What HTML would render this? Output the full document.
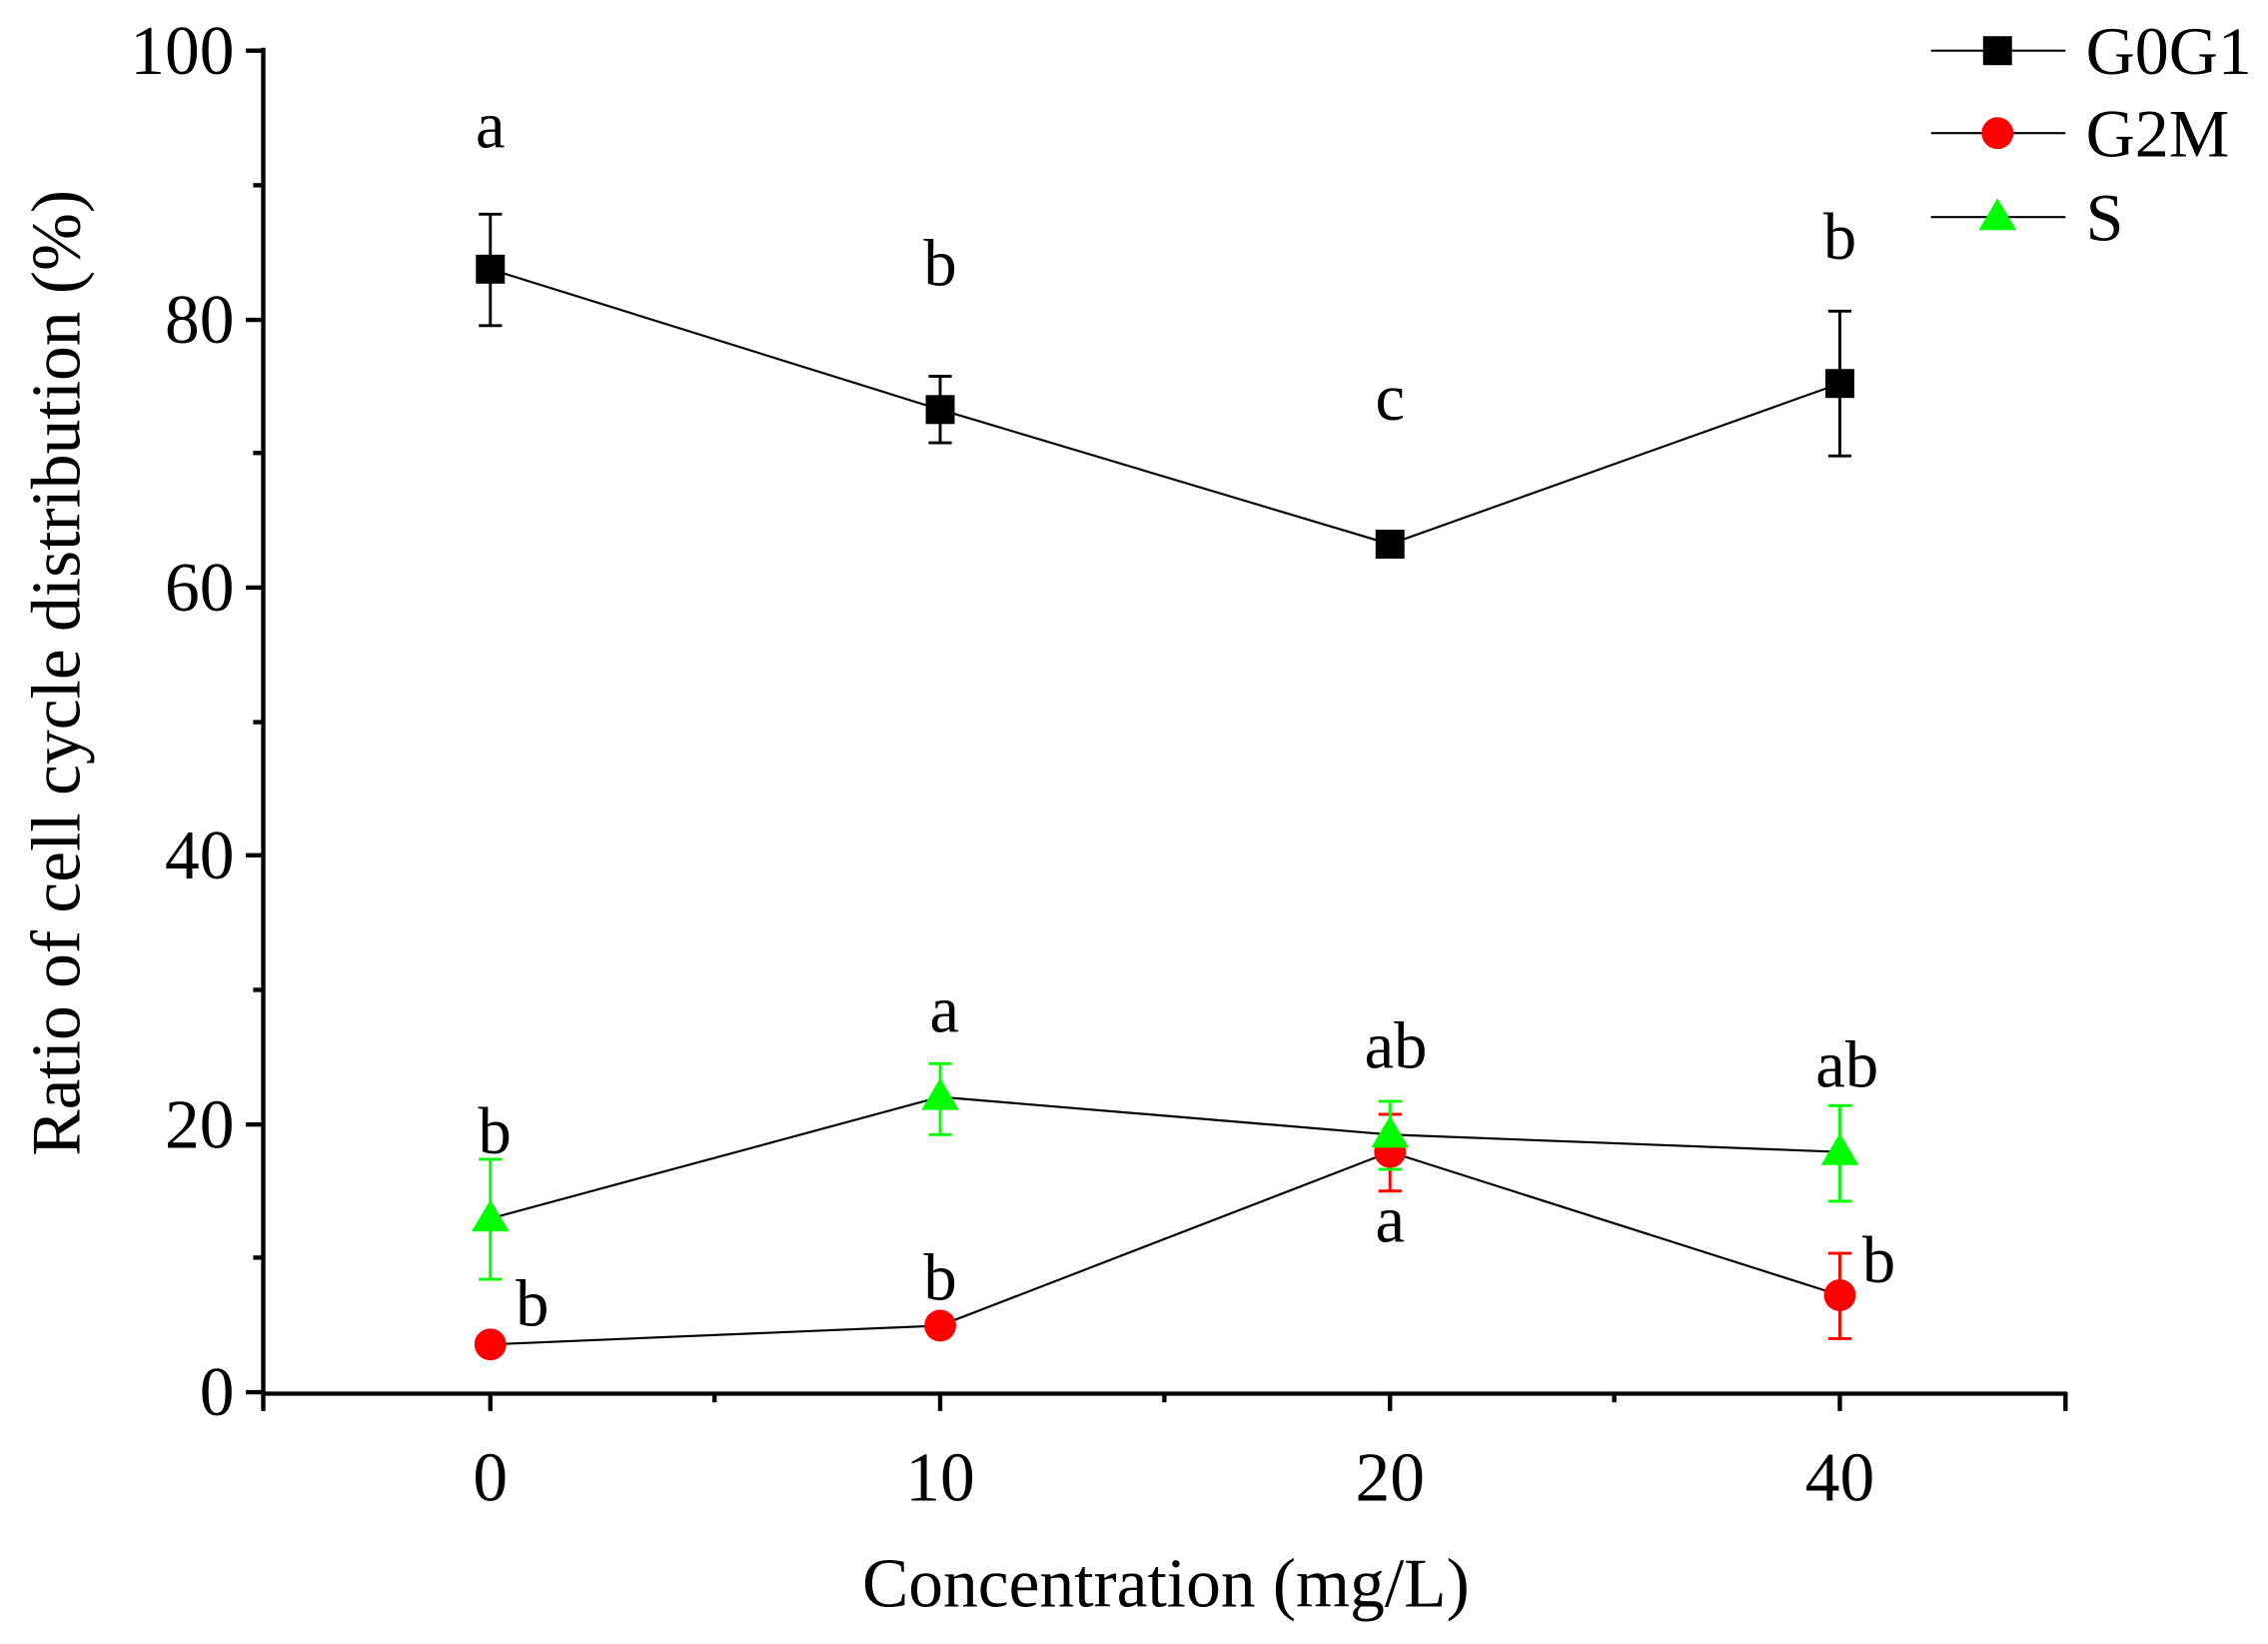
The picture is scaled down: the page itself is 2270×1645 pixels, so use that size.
<!DOCTYPE html>
<html><head><meta charset="utf-8"><style>html,body{margin:0;padding:0;background:#fff}svg{display:block}</style></head>
<body>
<svg width="2270" height="1645" viewBox="0 0 1568 1136" preserveAspectRatio="none" xmlns="http://www.w3.org/2000/svg" font-family="Liberation Serif, serif">
<g stroke="#000" stroke-width="3" fill="none">
<line x1="182" y1="33" x2="182" y2="963"/>
<line x1="181" y1="963" x2="1429" y2="963"/>
<line x1="170" y1="962" x2="182" y2="962"/><line x1="170" y1="777" x2="182" y2="777"/><line x1="170" y1="591" x2="182" y2="591"/><line x1="170" y1="406" x2="182" y2="406"/><line x1="170" y1="221" x2="182" y2="221"/><line x1="170" y1="35" x2="182" y2="35"/>
<line x1="175" y1="869" x2="182" y2="869"/><line x1="175" y1="684" x2="182" y2="684"/><line x1="175" y1="499" x2="182" y2="499"/><line x1="175" y1="313" x2="182" y2="313"/><line x1="175" y1="128" x2="182" y2="128"/>
<line x1="182" y1="962" x2="182" y2="975"/><line x1="339" y1="962" x2="339" y2="975"/><line x1="650" y1="962" x2="650" y2="975"/><line x1="961" y1="962" x2="961" y2="975"/><line x1="1272" y1="962" x2="1272" y2="975"/><line x1="1428" y1="962" x2="1428" y2="975"/>
<line x1="494" y1="962" x2="494" y2="969"/><line x1="805" y1="962" x2="805" y2="969"/><line x1="1116" y1="962" x2="1116" y2="969"/>
</g>
<g font-size="48" text-anchor="end" fill="#000">
<text x="162" y="978">0</text><text x="162" y="793">20</text><text x="162" y="607">40</text><text x="162" y="422">60</text><text x="162" y="237">80</text><text x="162" y="51">100</text>
</g>
<g font-size="48" text-anchor="middle" fill="#000">
<text x="339" y="1037">0</text><text x="650" y="1037">10</text><text x="961" y="1037">20</text><text x="1272" y="1037">40</text>
<text x="806" y="1110">Concentration (mg/L)</text>
<text transform="translate(55,465) rotate(-90)">Ratio of cell cycle distribution (%)</text>
</g>
<g stroke="#000" stroke-width="1.5" fill="none">
<polyline points="339,186 650,283 961,376 1272,265"/>
<polyline points="339,929 650,916 961,796 1272,895"/>
<polyline points="339,842 650,758 961,784 1272,796"/>
</g>
<g stroke="#000" stroke-width="2">
<path d="M339,148V225M331,148H347M331,225H347M650,260V306M642,260H658M642,306H658M1272,215V315M1264,215H1280M1264,315H1280"/>
</g>
<g stroke="#f00" stroke-width="2">
<path d="M961,770V823M953,770H969M953,823H969M1272,866V925M1264,866H1280M1264,925H1280"/>
</g>
<g stroke="#0f0" stroke-width="2">
<path d="M339,801V884M331,801H347M331,884H347M650,735V784M642,735H658M642,784H658M961,761V808M953,761H969M953,808H969M1272,764V830M1264,764H1280M1264,830H1280"/>
</g>
<g fill="#000"><rect x="329" y="176" width="20" height="20"/><rect x="640" y="273" width="20" height="20"/><rect x="951" y="366" width="20" height="20"/><rect x="1262" y="255" width="20" height="20"/></g>
<g fill="#f00"><circle cx="339" cy="929" r="11"/><circle cx="650" cy="916" r="11"/><circle cx="961" cy="796" r="11"/><circle cx="1272" cy="895" r="11"/></g>
<g fill="#0f0"><path d="M339,829 l13,22 h-26z"/><path d="M650,745 l13,22 h-26z"/><path d="M961,771 l13,22 h-26z"/><path d="M1272,783 l13,22 h-26z"/></g>
<g font-size="46" text-anchor="middle" fill="#000">
<text x="339" y="102">a</text><text x="650" y="197">b</text><text x="961" y="290">c</text><text x="1272" y="179">b</text>
<text x="342" y="797">b</text><text x="653" y="713">a</text><text x="965" y="738">ab</text><text x="1277" y="751">ab</text>
<text x="368" y="916">b</text><text x="650" y="898">b</text><text x="961" y="858">a</text><text x="1299" y="886">b</text>
</g>
<g stroke="#000" stroke-width="1.5"><line x1="1335" y1="35" x2="1428" y2="35"/><line x1="1335" y1="92" x2="1428" y2="92"/><line x1="1335" y1="150" x2="1428" y2="150"/></g>
<rect x="1371" y="25" width="20" height="20" fill="#000"/>
<circle cx="1381" cy="92" r="11" fill="#f00"/>
<path d="M1381,137 l13,22 h-26z" fill="#0f0"/>
<g font-size="47" fill="#000"><text x="1442" y="51">G0G1</text><text x="1442" y="108">G2M</text><text x="1442" y="166">S</text></g>
</svg>
</body></html>
